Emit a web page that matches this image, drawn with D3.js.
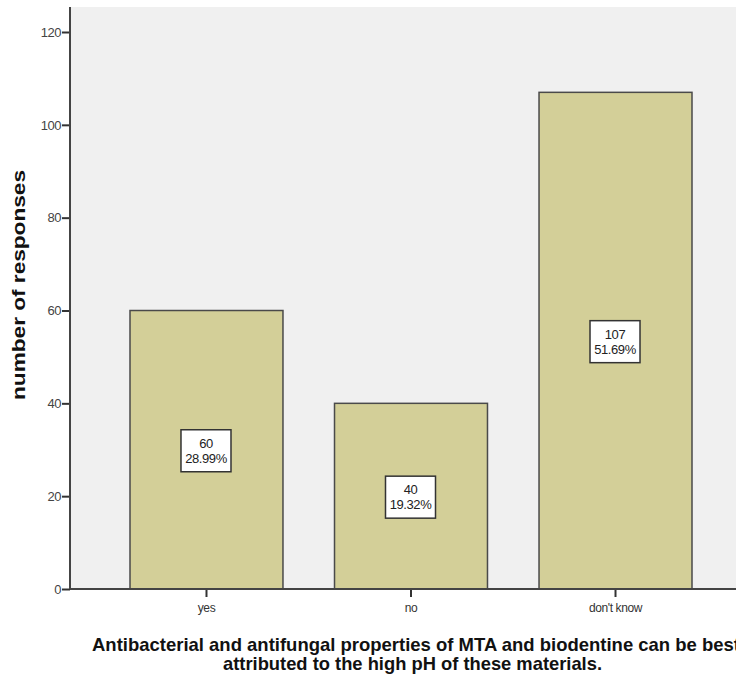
<!DOCTYPE html>
<html><head><meta charset="utf-8">
<script src="https://cdn.jsdelivr.net/npm/d3@7"></script>
<style>body{margin:0;background:#fff}svg{display:block}</style>
</head><body>
<svg id="c" width="736" height="682"></svg>
<script>
const categories = ["yes", "no", "don't know"];
const counts = [60, 40, 107];
const percents = ["28.99%", "19.32%", "51.69%"];
const yTicks = [0, 20, 40, 60, 80, 100, 120];
const yLabel = "number of responses";
const xTitle = ["Antibacterial and antifungal properties of MTA and biodentine can be best", "attributed to the high pH of these materials."];

const FONT = "Liberation Sans, Arial, sans-serif";
const svg = d3.select("#c");
const L = 70, R = 736, T = 7, B = 589;
const x = d3.scaleBand().domain(categories).range([130, 692]).paddingInner(0.252).paddingOuter(0);
const y = d3.scaleLinear().domain([0, 120]).range([B, 32]);

svg.append("rect").attr("x", L).attr("y", T).attr("width", R - L).attr("height", B - T).attr("fill", "#f0f0f0");

svg.selectAll("rect.bar").data(categories).join("rect").attr("class", "bar")
  .attr("x", d => x(d)).attr("width", x.bandwidth())
  .attr("y", (d, i) => y(counts[i])).attr("height", (d, i) => B - y(counts[i]))
  .attr("fill", "#d3cf98").attr("stroke", "#4a4a4a").attr("stroke-width", 1.5);

const yAxis = svg.append("g").attr("transform", `translate(${L},0)`)
  .call(d3.axisLeft(y).tickValues(yTicks).tickSize(8).tickPadding(1));
yAxis.select(".domain").remove();
yAxis.selectAll("line").attr("stroke", "#333").attr("stroke-width", 2);
yAxis.selectAll("text").attr("font-family", FONT).attr("font-size", 13).attr("fill", "#444")
  .attr("letter-spacing", "-0.5px");
svg.append("line").attr("x1", L).attr("x2", L).attr("y1", T).attr("y2", B).attr("stroke", "#444").attr("stroke-width", 2);

const xAxis = svg.append("g").attr("transform", `translate(0,${B})`)
  .call(d3.axisBottom(x).tickSize(8).tickPadding(6));
xAxis.select(".domain").remove();
xAxis.selectAll("line").attr("stroke", "#333").attr("stroke-width", 2);
xAxis.selectAll("text").attr("font-family", FONT).attr("font-size", 12).attr("fill", "#333")
  .attr("letter-spacing", "-0.4px");
svg.append("line").attr("x1", L).attr("x2", R).attr("y1", B).attr("y2", B).attr("stroke", "#444").attr("stroke-width", 2);

const lab = svg.selectAll("g.lab").data(categories).join("g").attr("class", "lab")
  .attr("transform", (d, i) => `translate(${x(d) + x.bandwidth() / 2 - 0.5},${y(counts[i] / 2) + 1})`);
lab.append("rect").attr("x", -25).attr("y", -21).attr("width", 50).attr("height", 42)
  .attr("fill", "#fff").attr("stroke", "#333").attr("stroke-width", 1.5);
lab.append("text").attr("text-anchor", "middle").attr("y", -3)
  .attr("font-family", FONT).attr("font-size", 13).attr("fill", "#222").attr("letter-spacing", "-0.4px")
  .text((d, i) => counts[i]);
lab.append("text").attr("text-anchor", "middle").attr("y", 12)
  .attr("font-family", FONT).attr("font-size", 13).attr("fill", "#222").attr("letter-spacing", "-0.4px")
  .text((d, i) => percents[i]);

svg.append("text").attr("transform", `translate(25,285) rotate(-90)`)
  .attr("text-anchor", "middle").attr("font-family", FONT)
  .attr("textLength", 230).attr("lengthAdjust", "spacingAndGlyphs")
  .attr("font-weight", "bold").attr("font-size", 19).attr("fill", "#111").text(yLabel);

svg.append("text").attr("x", 92).attr("y", 651).attr("textLength", 648).attr("lengthAdjust", "spacingAndGlyphs")
  .attr("font-family", FONT).attr("font-weight", "bold").attr("font-size", 19).attr("fill", "#111")
  .text(xTitle[0]);
svg.append("text").attr("x", 223).attr("y", 670).attr("textLength", 379).attr("lengthAdjust", "spacingAndGlyphs")
  .attr("font-family", FONT).attr("font-weight", "bold").attr("font-size", 19).attr("fill", "#111")
  .text(xTitle[1]);
</script>
</body></html>
